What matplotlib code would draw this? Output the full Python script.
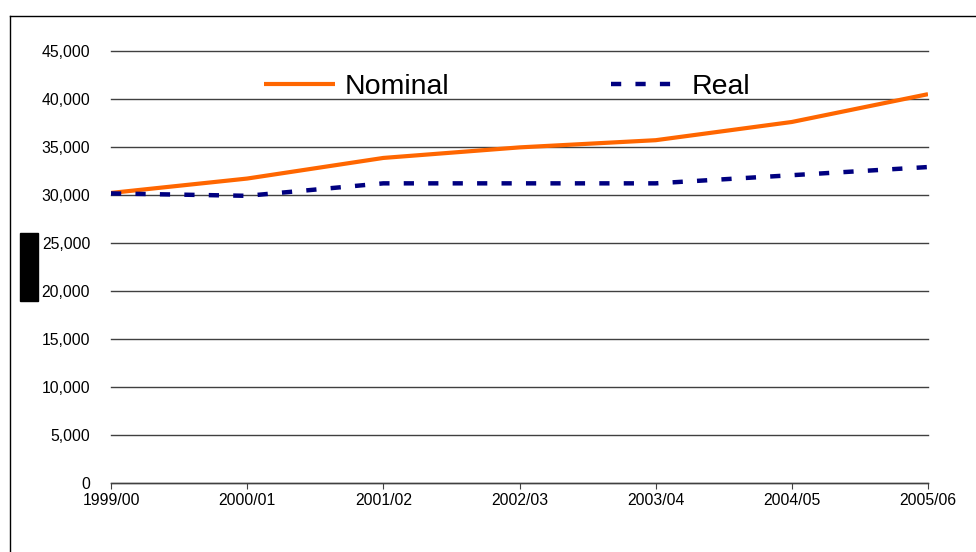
import matplotlib
matplotlib.use("Agg")
import matplotlib.pyplot as plt
from matplotlib.lines import Line2D
from matplotlib.patches import Rectangle

plt.rcParams['font.family'] = ['Liberation Sans', 'DejaVu Sans']

years = ["1999/00", "2000/01", "2001/02", "2002/03", "2003/04", "2004/05", "2005/06"]
nominal = [30250, 31750, 33900, 35000, 35750, 37650, 40550]
real = [30200, 29950, 31250, 31250, 31250, 32100, 32950]
yticks = [0, 5000, 10000, 15000, 20000, 25000, 30000, 35000, 40000, 45000]

W, H = 976, 552
fig = plt.figure(figsize=(W / 100, H / 100), dpi=100)
ax = fig.add_axes([111 / W, (H - 483) / H, (928 - 111) / W, (483 - 51.5) / H])

x = list(range(len(years)))
ax.plot(x, nominal, color='#FF6600', lw=3, label='Nominal', solid_capstyle='butt', zorder=3)
ax.plot(x, real, color='#000080', lw=3.2, label='Real', dashes=(2.3, 3.2),
        dash_capstyle='butt', zorder=3)

ax.set_xlim(0, len(years) - 1)
ax.set_ylim(0, 45000)
ax.set_yticks(yticks)
ax.set_yticklabels([f"{v:,}" for v in yticks], fontsize=11.3)
ax.set_xticks(x)
ax.set_xticklabels(years, fontsize=11.3)
ax.yaxis.grid(True, color='#404040', lw=1)
for gl in ax.get_ygridlines():
    gl.set_clip_on(False)
ax.set_axisbelow(True)
for s in ['left', 'right', 'top']:
    ax.spines[s].set_visible(False)
ax.spines['bottom'].set_color('#404040')
ax.spines['bottom'].set_linewidth(1)
ax.tick_params(axis='y', length=0, pad=15)
ax.tick_params(axis='x', length=4, color='#404040', direction='out', pad=3)

leg = ax.legend(loc='center left', bbox_to_anchor=(264 / W, (H - 87) / H),
                bbox_transform=fig.transFigure, ncol=2, frameon=False,
                fontsize=20.5, handlelength=2.5, handletextpad=0.33,
                columnspacing=5.7, borderpad=0, borderaxespad=0)

# Frame border
fig.add_artist(Line2D([9.5 / W, 9.5 / W], [0, (H - 15.5) / H], color='black', lw=1,
                      transform=fig.transFigure))
fig.add_artist(Line2D([9.5 / W, 1], [(H - 15.5) / H, (H - 15.5) / H], color='black', lw=1,
                      transform=fig.transFigure))
# Black block (obscured axis title)
fig.add_artist(Rectangle((20 / W, (H - 301) / H), 18 / W, 68 / H, color='black',
                         transform=fig.transFigure))

fig.savefig("out.png", dpi=100)
